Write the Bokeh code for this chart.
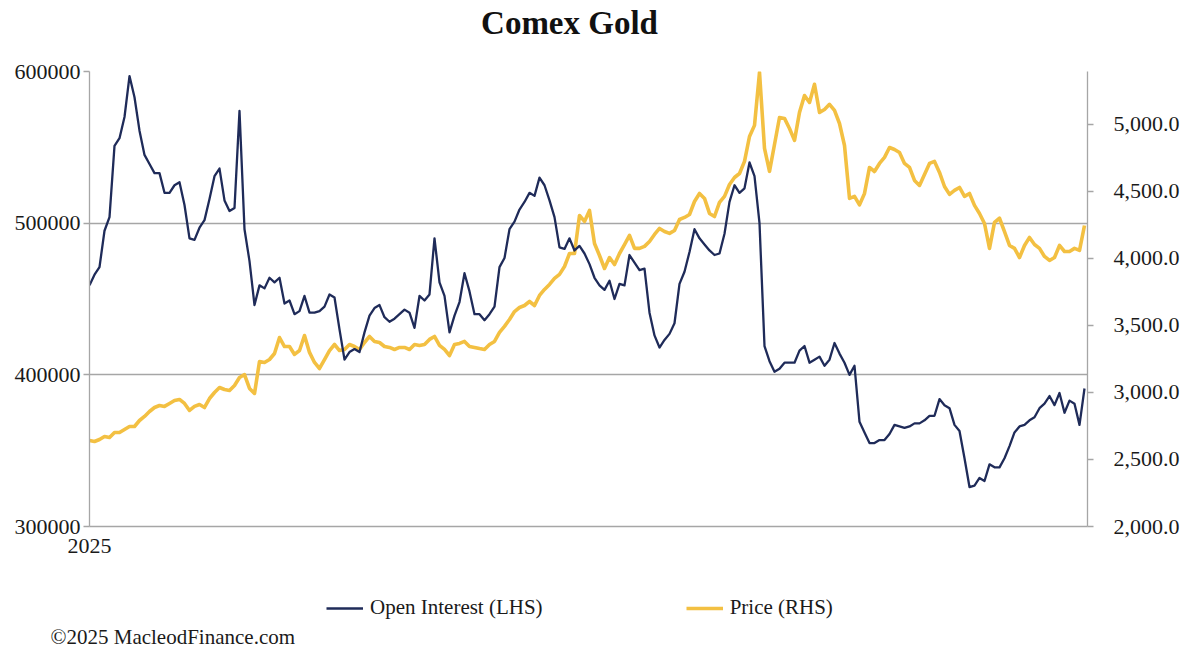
from bokeh.plotting import figure
from bokeh.layouts import column
from bokeh.models import (ColumnDataSource, Range1d, LinearAxis, FixedTicker,
                          NumeralTickFormatter, Legend, LegendItem, Label)
from bokeh.embed import file_html
from bokeh.resources import INLINE

# Comex gold open interest (contracts, LHS) and price (USD, RHS), 2025
oi_values = [
    459000, 466000, 471000, 495000, 504000, 551000, 556000, 570000, 597000, 583000,
    561000, 545000, 539000, 533000, 533000, 520000, 520000, 525000, 527000, 512000,
    490000, 489000, 497000, 502000, 516000, 531000, 536000, 515000, 508000, 510000,
    574000, 496000, 475000, 446000, 459000, 457000, 464000, 461000, 464000, 447000,
    449000, 440000, 442000, 452000, 441000, 441000, 442000, 445000, 453000, 451000,
    430000, 410000, 415000, 417000, 415000, 428000, 439000, 444000, 446000, 438000,
    435000, 437000, 440000, 443000, 441000, 431000, 452000, 449000, 453000, 490000,
    461000, 452000, 428000, 439000, 448000, 467000, 455000, 440000, 440000, 436000,
    440000, 445000, 471000, 477000, 496000, 501000, 509000, 514000, 520000, 518000,
    530000, 525000, 515000, 504000, 484000, 483000, 490000, 482000, 485000, 480000,
    473000, 464000, 459000, 456000, 462000, 450000, 460000, 459000, 479000, 474000,
    469000, 470000, 441000, 426000, 418000, 423000, 427000, 434000, 460000, 468000,
    481000, 496000, 490000, 486000, 482000, 479000, 480000, 493000, 514000, 525000,
    520000, 523000, 540000, 531000, 500000, 419000, 409000, 402000, 404000, 408000,
    408000, 408000, 416000, 419000, 408000, 410000, 412000, 406000, 410000, 421000,
    414000, 408000, 400000, 406000, 369000, 362000, 355000, 355000, 357000, 357000,
    361000, 367000, 366000, 365000, 366000, 368000, 368000, 370000, 373000, 373000,
    384000, 380000, 378000, 367000, 363000, 345000, 326000, 327000, 332000, 330000,
    341000, 339000, 339000, 345000, 353000, 362000, 366000, 367000, 370000, 372000,
    378000, 381000, 386000, 380000, 388000, 375000, 383000, 381000, 367000, 391000,
]

price_values = [
    2642, 2634, 2649, 2672, 2664, 2701, 2701, 2724, 2746, 2746,
    2791, 2821, 2858, 2888, 2903, 2896, 2918, 2940, 2948, 2918,
    2866, 2896, 2910, 2888, 2955, 3000, 3037, 3022, 3015, 3052,
    3112, 3134, 3030, 2993, 3231, 3224, 3246, 3291, 3410, 3343,
    3343, 3284, 3313, 3425, 3299, 3224, 3179, 3246, 3313, 3358,
    3313, 3321, 3358, 3343, 3321, 3373, 3418, 3381, 3373, 3343,
    3336, 3321, 3336, 3336, 3321, 3358, 3351, 3358, 3396, 3418,
    3351, 3321, 3276, 3358, 3366, 3381, 3343, 3336, 3328, 3321,
    3358, 3381, 3448, 3493, 3545, 3604, 3634, 3649, 3679, 3649,
    3724, 3769, 3806, 3851, 3881, 3940, 4037, 4037, 4321, 4276,
    4358, 4112, 4022, 3925, 4007, 3955, 4037, 4104, 4172, 4075,
    4075, 4090, 4127, 4179, 4224, 4201, 4187, 4209, 4291, 4306,
    4328, 4425, 4485, 4448, 4336, 4313, 4418, 4463, 4552, 4604,
    4634, 4724, 4910, 4993, 5388, 4821, 4650, 4850, 5052, 5045,
    4970, 4881, 5090, 5216, 5164, 5300, 5090, 5112, 5150, 5105,
    5007, 4843, 4448, 4463, 4400, 4485, 4679, 4649, 4709, 4754,
    4828, 4813, 4791, 4709, 4679, 4582, 4545, 4627, 4709, 4724,
    4642, 4537, 4478, 4508, 4530, 4463, 4485, 4396, 4336, 4261,
    4075, 4269, 4300, 4201, 4097, 4075, 4007, 4097, 4157, 4104,
    4075, 4015, 3985, 4007, 4097, 4052, 4052, 4075, 4060, 4246,
]

oi_ticks = [300000, 400000, 500000, 600000]
price_ticks = [2000, 2500, 3000, 3500, 4000, 4500, 5000]
year_label = "2025"
series_labels = ["Open Interest (LHS)", "Price (RHS)"]

FONT = "Liberation Serif"
NAVY = "#1f2b59"
GOLD = "#f3c042"
GREY = "#a6a6a6"
TEXT = "#1a1a1a"
W = 1180


def text_strip(height):
    # plain strip (no axes) for the texts that sit outside the chart frame
    s = figure(width=W, height=height, output_backend="svg", toolbar_location=None,
               x_axis_type=None, y_axis_type=None, x_range=Range1d(0, 1), y_range=Range1d(0, 1),
               min_border=0, min_border_left=0, min_border_right=0,
               min_border_top=0, min_border_bottom=0, frame_align=False)
    s.outline_line_color = None
    s.border_fill_color = "white"
    return s


# title
top = text_strip(56)
top.add_layout(Label(x=569, y=34, x_units="screen", y_units="screen", text="Comex Gold",
                     text_align="center", text_baseline="middle", text_font=FONT,
                     text_font_size="33px", text_font_style="bold", text_color="#111111"))

# main chart
days = list(range(len(oi_values)))
source = ColumnDataSource(dict(day=days, oi=oi_values, price=price_values))

p = figure(frame_width=998, frame_height=455, output_backend="svg", toolbar_location=None,
           x_range=Range1d(0, len(days) - 0.4), y_range=Range1d(300000, 600000),
           min_border_left=89, min_border_right=93, min_border_top=15, min_border_bottom=49)
p.outline_line_color = None
p.background_fill_color = "white"
p.border_fill_color = "white"
p.extra_y_ranges = {"price": Range1d(2000, 5395)}

p.yaxis.ticker = FixedTicker(ticks=oi_ticks)
p.yaxis.formatter = NumeralTickFormatter(format="0")
p.xaxis.ticker = FixedTicker(ticks=[0])
p.xaxis.major_label_overrides = {0: year_label}

right_axis = LinearAxis(y_range_name="price", ticker=FixedTicker(ticks=price_ticks),
                        formatter=NumeralTickFormatter(format="0,0.0"))
p.add_layout(right_axis, "right")

for ax in [p.xaxis[0], p.yaxis[0], right_axis]:
    ax.axis_line_color = GREY
    ax.axis_line_width = 1.3
    ax.major_tick_line_color = GREY
    ax.major_tick_line_width = 1.3
    ax.major_tick_in = 0
    ax.major_tick_out = 6
    ax.minor_tick_line_color = None
    ax.major_label_text_font = FONT
    ax.major_label_text_font_size = "22px"
    ax.major_label_text_color = TEXT
p.xaxis.major_tick_line_color = None
p.xaxis.major_tick_out = 0
p.xaxis.major_label_standoff = 12
p.yaxis.major_label_standoff = 3
right_axis.major_label_standoff = 20

p.xgrid.visible = False
p.ygrid.grid_line_color = GREY
p.ygrid.grid_line_width = 1.3

p.line("day", "price", source=source, y_range_name="price",
       color=GOLD, line_width=3.6, line_join="round")
p.line("day", "oi", source=source, color=NAVY, line_width=2.3, line_join="round")

# legend + copyright strip; the swatch renderers sit outside the strip's range
bottom = text_strip(85)
sw_oi = bottom.line(x=[5, 6], y=[5, 5], color=NAVY, line_width=2.3)
sw_price = bottom.line(x=[5, 6], y=[5, 5], color=GOLD, line_width=3.6)
legend = Legend(items=[LegendItem(label=series_labels[0], renderers=[sw_oi]),
                       LegendItem(label=series_labels[1], renderers=[sw_price])],
                orientation="horizontal", location=(326, 40),
                spacing=143, glyph_width=37, glyph_height=24, label_standoff=7,
                padding=0, margin=0, border_line_color=None, background_fill_alpha=0,
                label_text_font=FONT, label_text_font_size="21px", label_text_color=TEXT)
bottom.add_layout(legend)
bottom.add_layout(Label(x=50, y=24, x_units="screen", y_units="screen",
                        text="\u00a92025 MacleodFinance.com", text_align="left",
                        text_baseline="middle", text_font=FONT, text_font_size="21px",
                        text_color=TEXT))

layout = column(top, p, bottom, spacing=0)
open("out.html", "w").write(file_html(layout, INLINE))
